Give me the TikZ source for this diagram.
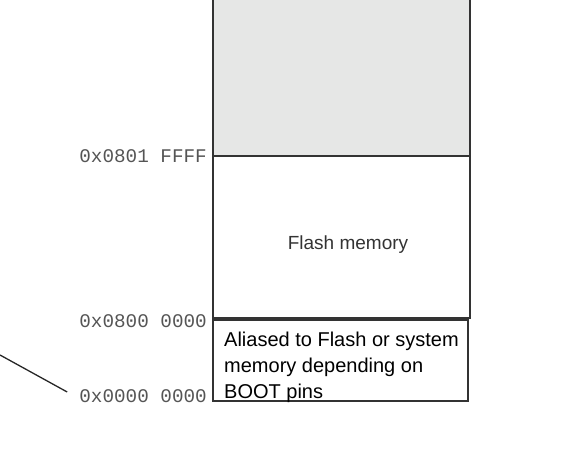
\documentclass[tikz,border=0pt]{standalone}
\usepackage{fontspec}
\setmainfont{Liberation Sans}
\setmonofont{Liberation Mono}
\usetikzlibrary{positioning}
\definecolor{memgrey}{RGB}{230,231,230}
\definecolor{memedge}{RGB}{51,51,51}
\definecolor{addrgrey}{RGB}{85,85,85}

\begin{document}
\begin{tikzpicture}[x=1pt, y=-1pt,
            font=\fontsize{19}{26}\selectfont,
            region/.style={rectangle, draw=memedge, line width=2pt, inner sep=0pt, outer sep=0pt, minimum width=257pt},
            addr/.style={inner sep=0pt, font=\ttfamily\fontsize{19.3}{24}\selectfont, text=addrgrey},
            leader/.style={draw=black!85, line width=1.3pt}
        ]
            \useasboundingbox (0,0) rectangle (578,470);
            \node[region, fill=memgrey, minimum height=161pt] (reserved) at (341.5,75.5) {};
            \node[region, minimum height=162pt, below=0pt of reserved] (flash) {};
            \node[text=memedge] (flashlabel) at ([xshift=6.5pt, yshift=-8pt]flash.center) {Flash memory};
            \node[region, line width=1.5pt, minimum width=255pt, minimum height=81pt, anchor=north west] (alias) at (213,320) {};
            \node[anchor=north west, inner sep=0pt, align=left, font=\fontsize{20}{26}\selectfont] (aliastext) at (224,331.5) {Aliased to Flash or system\\memory depending on\\BOOT pins};
            \node[addr, left=6pt of flash.north west] (addrtop) {0x0801 FFFF};
            \node[addr, left=6pt of alias.north west, yshift=-1.5pt] (addrmid) {0x0800 0000};
            \node[addr, left=6pt of alias.south west, yshift=5pt] (addrzero) {0x0000 0000};
            \coordinate (lead) at (0,355);
            \draw[leader] (lead) -- ([xshift=-12pt, yshift=4pt]addrzero.west);
        \end{tikzpicture}
\end{document}
